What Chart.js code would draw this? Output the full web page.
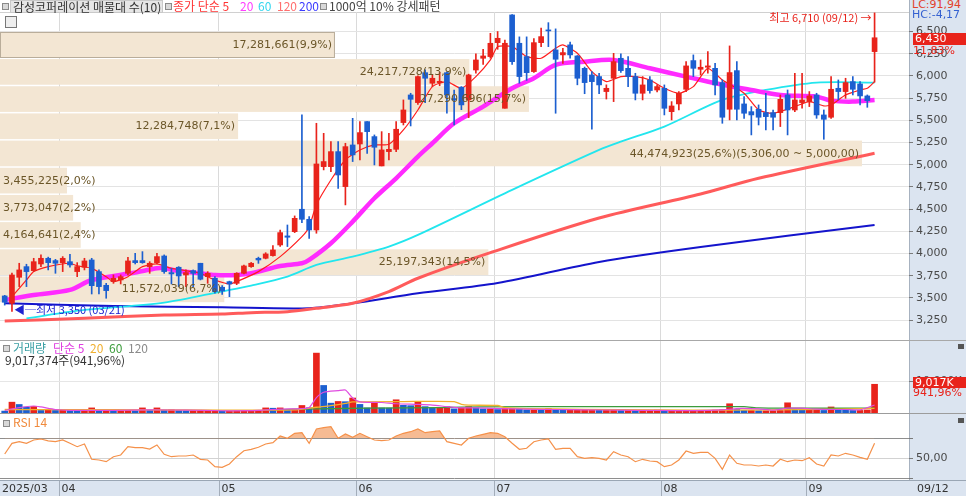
<!DOCTYPE html>
<html>
<head>
<meta charset="utf-8">
<script src="https://cdn.jsdelivr.net/npm/chart.js@4.4.1/dist/chart.umd.min.js"></script>
<style>
body{margin:0;background:#fff;}
#wrap{position:relative;width:966px;height:496px;overflow:hidden;background:#fff;font-family:'Noto Sans CJK KR','Noto Sans',sans-serif;}
.t{position:absolute;white-space:nowrap;font-size:11px;line-height:12px;}
.k{font-size:12px;}
.ln{position:absolute;}
canvas{position:absolute;left:0;}
.ico{position:absolute;width:5px;height:5px;border:1px solid #8a8a8a;background:#d8d8d8;}
</style>
</head>
<body>
<div id="wrap">
  <div class="ln" style="left:909px;top:0;width:57px;height:496px;background:#dbe4f0;border-left:1px solid #a7b2c0;"></div>
  <div class="ln" style="left:0;top:480px;width:966px;height:16px;background:#dbe4f0;border-top:1px solid #9aa6b4;"></div>
  <div class="ln" style="left:0;top:12px;width:909px;height:1px;background:#d0d0d0;"></div>
  <div class="ln" style="left:0;top:340px;width:966px;height:1px;background:#a8a8a8;"></div>
  <div class="ln" style="left:0;top:413px;width:966px;height:1px;background:#9c9c9c;"></div>

  <canvas id="cPrice" width="966" height="328" style="top:12px"></canvas>
  <canvas id="cVol" width="966" height="72" style="top:341px"></canvas>
  <canvas id="cRsi" width="966" height="82" style="top:414px"></canvas>

  <!-- price panel legend -->
  <div class="ico" style="left:2px;top:3px;"></div>
  <div class="t k" style="left:10px;top:0;width:149px;height:11px;background:#e6e6e6;border:1px solid #c9c9c9;color:#333;padding-left:2px;">감성코퍼레이션 매물대 수(10)</div>
  <div class="ico" style="left:165px;top:3px;"></div>
  <div class="t k" style="left:173px;top:0;color:#ff3434;">종가 단순 5</div>
  <div class="t k" style="left:240px;top:0;color:#ff3dff;">20</div>
  <div class="t k" style="left:258px;top:0;color:#33d6ee;">60</div>
  <div class="t k" style="left:277px;top:0;color:#ff6e6e;">120</div>
  <div class="t k" style="left:299px;top:0;color:#3a3aff;">200</div>
  <div class="ico" style="left:320px;top:3px;"></div>
  <div class="t k" style="left:329px;top:0;color:#444;">1000억 10% 강세패턴</div>
  <div class="ln" style="left:5px;top:16px;width:10px;height:10px;border:1px solid #777;background:#eee;"></div>

  <!-- right panel texts -->
  <div class="t" style="left:912px;top:-1px;color:#e2412b;font-family:'DejaVu Sans';">LC:91,94</div>
  <div class="t" style="left:912px;top:9px;color:#3461d1;font-family:'DejaVu Sans';">HC:-4,17</div>
  <div class="t" style="left:913px;top:33px;width:53px;height:12px;background:#e8231b;color:#fff;font-family:'DejaVu Sans';padding-left:2px;">6,430</div>
  <div class="t" style="left:913px;top:45px;color:#e8231b;font-family:'DejaVu Sans';">11,83%</div>

  <!-- volume panel -->
  <div class="ico" style="left:3px;top:345px;"></div>
  <div class="t k" style="left:13px;top:342px;color:#3a9fa3;">거래량</div>
  <div class="t k" style="left:53px;top:342px;color:#e03ee0;">단순 5</div>
  <div class="t k" style="left:90px;top:342px;color:#f0b030;">20</div>
  <div class="t k" style="left:109px;top:342px;color:#3c9c3c;">60</div>
  <div class="t k" style="left:128px;top:342px;color:#8a8a8a;">120</div>
  <div class="t k" style="left:5px;top:354px;color:#333;">9,017,374주(941,96%)</div>
  <div class="t" style="left:913px;top:377px;width:53px;height:11px;background:#e8231b;color:#fff;font-family:'DejaVu Sans';padding-left:2px;">9,017K</div>
  <div class="t" style="left:913px;top:387px;color:#e8231b;font-family:'DejaVu Sans';">941,96%</div>
  <div class="ln" style="left:958px;top:344px;width:6px;height:5px;background:#555;"></div>

  <!-- rsi panel -->
  <div class="ico" style="left:3px;top:420px;"></div>
  <div class="t k" style="left:13px;top:416px;color:#f08a3c;">RSI 14</div>
  <div class="ln" style="left:958px;top:418px;width:6px;height:5px;background:#555;"></div>
</div>

<script>
// ---- price data (one candle per trading day, 2025/03/20 .. 2025/09/12)
const opens = [3523,3440,3733,3853,3808,3883,3947,3921,3898,3909,
  3797,3846,3928,3797,3643,3684,3703,3778,3921,3921,
  3853,3898,3973,3786,3846,3759,3808,3891,3740,3722,
  3621,3684,3665,3778,3853,3947,3947,3977,4097,4199,
  4247,4499,4386,4266,4979,4979,5148,4754,5223,5234,
  5486,5317,4987,5148,5174,5475,5786,5700,6037,5918,
  5925,6037,5745,5873,5730,6067,6199,6218,6375,5636,
  6687,6368,6218,6049,6375,6518,6293,6237,6350,6225,
  6086,6011,5993,5824,5974,6199,6086,5993,5805,5955,
  5842,5861,5598,5685,5850,6173,6075,6098,6086,5925,
  5625,6060,5685,5598,5625,5587,5587,5587,5786,5617,
  5700,5711,5786,5561,5535,5861,5824,5936,5910,5775,
  6274];
const highs = [3530,3780,3891,3880,3947,3985,3960,3935,3966,3992,
  3898,3947,3947,3816,3665,3760,3760,3958,4003,4022,
  3909,4003,3985,3834,3853,3816,3816,3891,3797,3740,
  3640,3690,3785,3870,3900,3960,4010,4090,4265,4322,
  4424,5561,4416,5467,5354,5260,5260,5242,5523,5486,
  5486,5336,5373,5354,5486,5730,5805,6000,6070,6010,
  6040,6045,5842,5880,6020,6250,6300,6480,6500,6405,
  6690,6440,6440,6420,6540,6600,6530,6310,6380,6230,
  6100,6050,6030,5900,6255,6250,6218,6030,5993,5993,
  5900,5899,5711,5824,6161,6237,6180,6274,6143,5955,
  6338,6161,5767,5655,5674,5805,5617,5786,5842,6030,
  6030,5824,5805,5617,5993,5955,5974,5993,5936,5786,
  6710];
const lows = [3420,3350,3628,3628,3797,3853,3816,3778,3797,3846,
  3740,3816,3545,3545,3497,3665,3658,3760,3883,3891,
  3778,3883,3778,3658,3628,3628,3628,3703,3665,3553,
  3540,3515,3650,3770,3845,3890,3940,3970,4080,4079,
  4236,4349,4172,4229,4942,4923,4735,4548,5036,5054,
  5129,4998,4987,5054,5148,5448,5437,5680,5700,5880,
  5890,5580,5448,5620,5530,6030,6130,6200,6300,5636,
  6130,5918,5950,6040,6330,6330,5580,6140,6200,5900,
  5800,5400,5800,5740,5711,6040,5880,5730,5730,5805,
  5820,5561,5505,5617,5824,5993,6011,6030,5786,5467,
  5505,5505,5523,5336,5448,5392,5392,5430,5336,5598,
  5636,5655,5523,5287,5523,5730,5748,5786,5674,5647,
  5930];
const closes = [3452,3759,3816,3797,3909,3947,3898,3891,3947,3872,
  3853,3917,3639,3628,3583,3722,3740,3917,3898,3898,
  3891,3966,3797,3771,3748,3786,3778,3711,3778,3572,
  3579,3658,3778,3861,3891,3928,3996,4041,4236,4184,
  4397,4386,4266,5009,5036,5148,4885,5204,5111,5362,
  5373,5197,5167,5174,5400,5617,5737,5993,5974,5974,
  5940,5786,5730,5674,6011,6180,6225,6368,6424,6368,
  6161,5993,6037,6375,6443,6507,6188,6263,6237,5974,
  5925,5936,5899,5861,6161,6060,5993,5805,5899,5835,
  5880,5636,5662,5805,6113,6086,6098,6113,5899,5535,
  6038,5625,5580,5561,5535,5542,5535,5737,5617,5730,
  5730,5775,5561,5512,5850,5824,5925,5850,5775,5722,
  6430];

// moving averages: [candle index, price]
const ma5Pts = [[1,3515],[3,3703],[4,3797],[6,3853],[9,3891],[10,3861],[12,3834],[14,3740],[15,3684],[17,3740],
  [19,3853],[21,3883],[23,3834],[25,3808],[27,3778],[29,3703],[31,3658],[32,3684],[35,3797],[38,3966],
  [41,4191],[42,4300],[43,4550],[45,4829],[47,5054],[49,5167],[51,5223],[53,5231],[55,5392],[57,5617],
  [59,5880],[61,5936],[63,5861],[65,5992],[67,6180],[68,6330],[70,6330],[72,6218],[74,6199],[76,6312],
  [77,6349],[79,6255],[81,6049],[83,5936],[85,5993],[87,5993],[89,5955],[91,5861],[93,5805],[95,5880],
  [97,6086],[99,5955],[102,5805],[104,5617],[106,5580],[109,5655],[111,5711],[113,5662],[114,5674],[116,5786],
  [118,5842],[119,5861],[120,5936]];
const ma20Pts = [[0,3478],[4,3534],[9,3591],[12,3703],[18,3786],[21,3834],[22,3834],[24,3804],[27,3778],[29,3759],
  [32,3759],[34,3778],[38,3860],[41,3891],[42,3928],[45,4116],[48,4360],[51,4623],[54,4848],[57,5092],
  [59,5242],[62,5467],[66,5655],[70,5861],[73,5974],[76,6124],[80,6161],[84,6180],[89,6086],[94,5993],
  [98,5918],[103,5842],[107,5786],[112,5767],[114,5722],[117,5711],[120,5730]];
const ma60Pts = [[3,3271],[11,3365],[22,3448],[30,3575],[34,3640],[39,3741],[43,3872],[48,3966],[53,4079],[57,4210],
  [70,4717],[82,5167],[85,5260],[91,5430],[99,5730],[105,5842],[112,5925],[120,5925]];
const ma120Pts = [[0,3241],[11,3272],[22,3309],[30,3320],[34,3335],[39,3346],[43,3384],[48,3440],[53,3572],[57,3722],
  [67,4010],[82,4400],[96,4670],[104,4848],[120,5130]];
const ma200Pts = [[0,3440],[15,3410],[30,3395],[42,3384],[48,3440],[57,3553],[68,3669],[82,3906],[96,4074],[120,4322]];

// volume in thousands of shares
const volumes = [600,3400,2670,1840,2040,800,900,800,850,800,
  700,800,1600,800,900,700,700,800,700,1600,
  800,1600,900,1000,800,700,700,700,700,700,
  600,600,700,700,700,800,1600,1500,1600,900,
  1200,2360,1630,18800,8650,3090,3620,3550,4700,2700,
  1600,3100,1600,1550,4150,2400,2300,3400,2000,1600,
  1650,2000,1300,1600,2000,1600,1300,1300,1100,1400,
  1400,1300,1000,1000,900,1400,1000,900,900,1000,
  1000,1000,900,900,1000,800,800,700,700,800,
  900,700,700,700,700,700,700,800,900,1000,
  2900,1100,800,800,700,700,700,800,3200,1200,
  900,900,900,800,1900,1300,900,800,800,960,
  9017];
const vma5Pts = [[0,800],[2,1700],[4,2200],[5,1900],[7,1100],[9,850],[15,850],[20,950],[25,900],[30,700],
  [35,800],[38,1200],[41,1400],[42,1700],[43,4800],[44,6500],[46,7000],[47,7200],[48,4700],[49,3500],
  [52,3300],[54,2900],[57,2700],[59,2500],[61,2000],[63,1600],[65,1600],[68,1400],[72,1200],[76,1100],
  [80,1000],[85,900],[90,800],[95,750],[99,1000],[101,1400],[104,1300],[106,900],[108,1500],[110,1500],
  [112,1200],[114,1100],[116,1100],[118,1000],[120,2500]];
const vma20Pts = [[0,1100],[10,1050],[20,1000],[30,900],[40,950],[43,1800],[45,2300],[47,3000],[48,3500],[55,3600],
  [62,3600],[63,2700],[64,2450],[68,2350],[69,1700],[72,1400],[80,1150],[90,950],[100,900],[110,1050],
  [120,1450]];
const vma60Pts = [[36,1000],[43,1300],[50,1500],[60,1700],[66,1950],[80,2000],[102,2000],[104,1600],[110,1500],[120,1500]];

// RSI 14
const rsi14 = [54.3,65,66.6,65,68.3,69.3,67.5,66.6,68.3,65,
  61.6,64.3,49,48.3,46.6,51.6,53.3,61.6,60.6,60.6,
  59.3,63.3,54,51.6,52.3,52.3,53.3,49,48.3,41.6,
  41,44.3,51.6,57.6,59,61,64.3,65.6,72.3,70,
  75,75.6,65,79.3,80.6,81.6,70,74.3,71,75,
  71.6,68.3,67.6,68.3,72.3,75,76.6,79.3,75.6,76.6,
  77.3,66.6,65,63.3,70,72.3,74,75.6,75,71.6,
  65,59,60,66.6,68.3,69.3,59,60,60,51.6,
  50,50.6,50,48.3,56.6,53.3,51.6,46.6,49,47.3,
  46.6,41.6,43.3,48.3,57.3,55,56,56,50,39,
  53.3,45,43.3,43.3,42.3,43.3,42.3,49,46.6,48.3,
  47.6,50.6,44.3,42.3,53.3,52.3,55,53.3,51,49,
  65];

// volume profile (매물대), top bin first
const profileVol = [17281661,24217728,27290696,12284748,44474923,3455225,3773047,4164641,25197343,11572039];
const profilePct = ['9,9','13,9','15,7','7,1','25,6','2,0','2,2','2,4','14,5','6,7'];
const profileTop = 6530;
const profileStep = 306;

const priceTicks = [3250,3500,3750,4000,4250,4500,4750,5000,5250,5500,5750,6000,6250,6500];
const monthAt = [7.5,29.5,48.5,67.5,90.5,110.5];
const monthLabels = ['04','05','06','07','08','09'];
const firstDate = '2025/03';
const lastDate = '09/12';
const hiIdx = 120, hiVal = 6710, hiText = '최고 6,710 (09/12) →';
const loIdx = 1, loVal = 3350, loText = '◀─최저 3,350 (03/21)';

// ---------------------------------------------------------------
Chart.defaults.font.family = 'DejaVu Sans';
Chart.defaults.animation = false;

const UP = '#e8231b', DN = '#1c5fd0';
const fmt = n => Number(n).toLocaleString('en-US');
const pts = a => a.map(p => ({x: p[0], y: p[1]}));
const candleCol = closes.map((c, i) => c >= opens[i] ? UP : DN);
const volCol = volumes.map((v, i) => (i > 0 && v >= volumes[i - 1]) ? UP : DN);
const lastClose = closes[closes.length - 1];

function xAxis() {
  return {
    type: 'linear', min: -0.65, max: 124.75, offset: false,
    border: {display: false},
    ticks: {display: false},
    grid: {color: '#dadada', drawTicks: false, offset: false},
    afterBuildTicks: s => { s.ticks = monthAt.map(v => ({value: v})); },
    afterFit: s => { s.height = 0; s.paddingLeft = 0; s.paddingRight = 0; }
  };
}
// fixed-width right axis without the automatic label padding
function fitRight(s) { s.width = 57; s.paddingTop = 0; s.paddingBottom = 0; }

function line(p, color, w, order, tension) {
  return {type: 'line', data: pts(p), borderColor: color, borderWidth: w, pointRadius: 0,
          tension: tension, order: order, fill: false};
}
function baseOpts(yAxis, pad) {
  return {
    responsive: false, animation: false, events: [],
    layout: {padding: pad || 0, autoPadding: false},
    plugins: {legend: {display: false}, tooltip: {enabled: false}},
    scales: {x: xAxis(), y: yAxis}
  };
}

// volume profile boxes + labels
const profilePlugin = {
  id: 'profile',
  beforeDatasetsDraw(chart) {
    const {ctx} = chart, y = chart.scales.y, xp = chart.scales.xp;
    ctx.save();
    profileVol.forEach((v, k) => {
      const hi = profileTop - k * profileStep, lo = hi - profileStep;
      const y1 = y.getPixelForValue(hi) + 3, y2 = y.getPixelForValue(lo) + 1.5;
      const x2 = xp.getPixelForValue(v);
      ctx.fillStyle = '#f3e6d3';
      ctx.fillRect(0, y1, x2, y2 - y1);
      if (lastClose >= lo && lastClose < hi) {
        ctx.strokeStyle = '#b9ad9a';
        ctx.lineWidth = 1;
        ctx.strokeRect(0.5, Math.round(y1) + 0.5, x2 - 1, Math.round(y2 - y1) - 1);
      }
    });
    ctx.restore();
  },
  afterDatasetsDraw(chart) {
    const {ctx} = chart, y = chart.scales.y, xp = chart.scales.xp;
    const maxV = Math.max(...profileVol);
    ctx.save();
    ctx.font = '11px "DejaVu Sans"';
    ctx.fillStyle = '#6b5628';
    ctx.textBaseline = 'middle';
    profileVol.forEach((v, k) => {
      const hi = profileTop - k * profileStep, lo = hi - profileStep;
      const yc = (y.getPixelForValue(hi) + y.getPixelForValue(lo)) / 2 + 2.5;
      let txt = fmt(v) + '(' + profilePct[k] + '%)';
      if (v === maxV) txt += '(' + fmt(hi) + ',00 ~ ' + fmt(lo) + ',00)';
      const right = xp.getPixelForValue(v) - 3;
      const w = ctx.measureText(txt).width;
      if (w + 6 > right) { ctx.textAlign = 'left'; ctx.fillText(txt, 3, yc); }
      else { ctx.textAlign = 'right'; ctx.fillText(txt, right, yc); }
    });
    // high / low marks
    const x = chart.scales.x;
    ctx.font = '11px "Noto Sans CJK KR"';
    ctx.fillStyle = '#e8231b';
    ctx.textAlign = 'right';
    ctx.fillText(hiText, x.getPixelForValue(hiIdx) - 3, y.getPixelForValue(hiVal) + 5);
    ctx.fillStyle = '#1e22d0';
    ctx.textAlign = 'left';
    ctx.fillText(loText, x.getPixelForValue(loIdx) + 2, y.getPixelForValue(loVal) - 1);
    ctx.restore();
  }
};

// ---- price chart
const priceOpts = baseOpts({
  position: 'right', min: 3027, max: 6720,
  border: {display: false},
  afterBuildTicks: s => { s.ticks = priceTicks.map(v => ({value: v})); },
  ticks: {color: '#4a4a4a', font: {size: 11}, padding: 3, callback: v => fmt(v)},
  grid: {color: '#e3e3e3', tickColor: '#7a7a7a', tickLength: 4},
  afterFit: fitRight
});
priceOpts.scales.xp = {type: 'linear', axis: 'x', display: false, offset: false, min: 0, max: 46900000};

new Chart(document.getElementById('cPrice'), {
  type: 'bar',
  data: {datasets: [
    {type: 'bar', data: closes.map((c, i) => ({x: i, y: [opens[i], c]})), backgroundColor: candleCol,
     barThickness: 5, minBarLength: 1, grouped: false, order: 0},
    {type: 'bar', data: closes.map((c, i) => ({x: i, y: [lows[i], highs[i]]})), backgroundColor: candleCol,
     barThickness: 1, grouped: false, order: 1},
    line(ma5Pts, '#ff1e1e', 1.2, 2, 0.2),
    line(ma20Pts, '#ff2bff', 4.5, 3, 0.3),
    line(ma60Pts, '#22e6ee', 1.8, 4, 0.3),
    line(ma120Pts, '#ff5b5b', 3, 5, 0.3),
    line(ma200Pts, '#1414cc', 2, 6, 0.3)
  ]},
  options: priceOpts,
  plugins: [profilePlugin]
});

// ---- volume chart
new Chart(document.getElementById('cVol'), {
  type: 'bar',
  data: {datasets: [
    {type: 'bar', data: volumes.map((v, i) => ({x: i, y: v})), backgroundColor: volCol,
     barThickness: 6, grouped: false, order: 5},
    line(vma60Pts, '#3c9c3c', 1.3, 3, 0.2),
    line(vma20Pts, '#f2b12c', 1.3, 2, 0.2),
    line(vma5Pts, '#e04ce0', 1.2, 1, 0.2)
  ]},
  options: baseOpts({
    position: 'right', min: 0, max: 22600,
    border: {display: false},
    afterBuildTicks: s => { s.ticks = [{value: 10000}]; },
    ticks: {color: '#4a4a4a', font: {size: 11}, padding: 3, callback: v => fmt(v) + 'K'},
    grid: {color: '#e6e6e6', tickColor: '#7a7a7a', tickLength: 4},
    afterFit: fitRight
  })
});

// ---- RSI chart with date strip underneath
const datePlugin = {
  id: 'dates',
  afterDraw(chart) {
    const {ctx, chartArea} = chart, x = chart.scales.x;
    const top = chartArea.bottom + 2, bottom = chart.height;
    ctx.save();
    ctx.strokeStyle = '#a3adba';
    ctx.lineWidth = 1;
    ctx.font = '11px "DejaVu Sans"';
    ctx.fillStyle = '#333';
    ctx.textBaseline = 'middle';
    const ym = (top + bottom) / 2 + 1;
    ctx.fillText(firstDate, 2, ym);
    monthAt.forEach((m, k) => {
      const px = Math.round(x.getPixelForValue(m)) + 0.5;
      ctx.beginPath(); ctx.moveTo(px, top); ctx.lineTo(px, bottom); ctx.stroke();
      ctx.fillText(monthLabels[k], px + 2, ym);
    });
    ctx.fillText(lastDate, chartArea.right + 8, ym);
    ctx.restore();
  }
};

new Chart(document.getElementById('cRsi'), {
  type: 'line',
  data: {datasets: [
    {data: rsi14.map((v, i) => ({x: i, y: v})), borderColor: '#f5914a', borderWidth: 1.2, pointRadius: 0,
     tension: 0, fill: {target: {value: 70}, above: 'rgba(244,170,120,0.8)', below: 'rgba(0,0,0,0)'}}
  ]},
  options: baseOpts({
    position: 'right', min: 29.3, max: 94.3,
    border: {display: false},
    afterBuildTicks: s => { s.ticks = [{value: 30}, {value: 50}, {value: 70}]; },
    ticks: {color: '#4a4a4a', font: {size: 11}, padding: 3, callback: v => v === 50 ? '50,00' : ''},
    grid: {color: c => c.tick && c.tick.value === 50 ? '#d2d2d2' : '#8e8e8e', tickColor: '#7a7a7a', tickLength: 4},
    afterFit: fitRight
  }, {bottom: 17}),
  plugins: [datePlugin]
});
</script>
</body>
</html>
